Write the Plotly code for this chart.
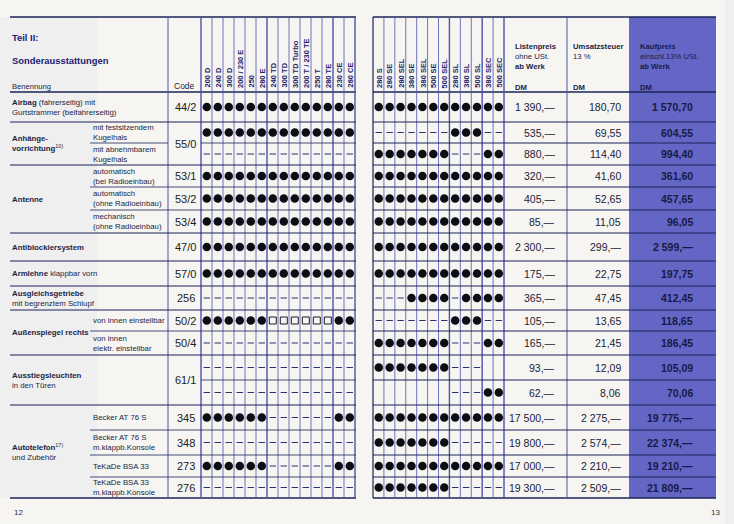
import plotly.graph_objects as go

# ---------------- data ----------------
left_models = ["200 D", "240 D", "300 D", "200 / 230 E", "250", "280 E",
               "240 TD", "300 TD", "300 TD Turbo", "200 T / 230 TE", "250 T", "280 TE",
               "230 CE", "280 CE"]
right_models = ["280 S", "280 SE", "280 SEL", "380 SE", "380 SEL", "500 SE", "500 SEL",
                "280 SL", "380 SL", "500 SL", "380 SEC", "500 SEC"]

group_labels = ["<b>Airbag</b> (fahrerseitig) mit<br>Gurtstrammer (beifahrerseitig)",
                "<b>Anhänge-</b><br><b>vorrichtung</b><sup>10)</sup>",
                "<b>Antenne</b>",
                "<b>Antiblockiersystem</b>",
                "<b>Armlehne</b> klappbar vorn",
                "<b>Ausgleichsgetriebe</b><br>mit begrenztem Schlupf",
                "<b>Außenspiegel rechts</b>",
                "<b>Ausstiegsleuchten</b><br>in den Türen",
                "<b>Autotelefon</b><sup>17)</sup><br>und Zubehör"]
group_sizes = [1, 2, 3, 1, 1, 1, 2, 2, 4]

sub_labels = ["", "mit festsitzendem<br>Kugelhals", "mit abnehmbarem<br>Kugelhals",
              "automatisch<br>(bei Radioeinbau)", "automatisch<br>(ohne Radioeinbau)",
              "mechanisch<br>(ohne Radioeinbau)", "", "", "",
              "von innen einstellbar", "von innen<br>elektr. einstellbar", "", "",
              "Becker AT 76 S", "Becker AT 76 S<br>m.klappb.Konsole",
              "TeKaDe BSA 33", "TeKaDe BSA 33<br>m.klappb.Konsole"]

codes = ["44/2", "55/0", "", "53/1", "53/2", "53/4", "47/0", "57/0", "256",
         "50/2", "50/4", "61/1", "", "345", "348", "273", "276"]

# x = Punkt, s = Quadrat, - = Strich, Leerzeichen = leer
avail_left = ["xxxxxxxxxxxxxx", "xxxxxxxxxxxxxx", "--------------",
              "xxxxxxxxxxxxxx", "xxxxxxxxxxxxxx", "xxxxxxxxxxxxxx",
              "xxxxxxxxxxxxxx", "xxxxxxxxxxxxxx", "--------------",
              "xxxxxxssssssxx", "--------------", "--------------", "--------------",
              "xxxxxx------xx", "--------------", "xxxxxx------xx", "--------------"]
avail_right = ["xxxxxxxxxxxx", "-------xxx--", "xxxxxxx---xx",
               "xxxxxxxxxxxx", "xxxxxxxxxxxx", "xxxxxxxxxxxx",
               "xxxxxxxxxxxx", "xxxxxxxxxxxx", "---xxxx-xxxx",
               "-------xxx--", "xxxxxxx---xx", "xxxxxxx---  ", "       ---xx",
               "xxxxxxxxxxxx", "xxxxxxx-----", "xxxxxxxxxxxx", "xxxxxxx-----"]

listenpreis = ["1 390,—", "535,—", "880,—", "320,—", "405,—", "85,—", "2 300,—", "175,—",
               "365,—", "105,—", "165,—", "93,—", "62,—", "17 500,—", "19 800,—",
               "17 000,—", "19 300,—"]
umsatzsteuer = ["180,70", "69,55", "114,40", "41,60", "52,65", "11,05", "299,—", "22,75",
                "47,45", "13,65", "21,45", "12,09", "8,06", "2 275,—", "2 574,—",
                "2 210,—", "2 509,—"]
kaufpreis = ["1 570,70", "604,55", "994,40", "361,60", "457,65", "96,05", "2 599,—", "197,75",
             "412,45", "118,65", "186,45", "105,09", "70,06", "19 775,—", "22 374,—",
             "19 210,—", "21 809,—"]

# ---------------- geometry / style ----------------
W, H = 734, 524
TOP, HEAD_BOT, BOT = 17, 92, 498
row_edges = [92, 122, 143, 165, 187, 210, 233, 261, 286, 310, 331, 355, 380, 405, 430, 455, 477, 498]
LX0, LSUB, LCODE, LMOD, LX1 = 10, 90, 168, 201, 355
RX0, RMOD1, P1, P2, RX1 = 373, 504, 567, 629, 716
lw = (LX1 - LMOD) / len(left_models)
rw = (RMOD1 - RX0) / len(right_models)

BG = "#f6f5f1"
NAVY = "#1c2358"
COL = "#4d54ad"
BLUE = "#6466c6"
TXT = "#1b1f45"
FONT = "Liberation Sans"
REG = 7.8

fig = go.Figure()
shapes = []


def line(x0, y0, x1, y1, color=NAVY, width=1.0):
    shapes.append(dict(type="line", x0=x0, y0=y0, x1=x1, y1=y1, xref="x", yref="y",
                       line=dict(color=color, width=width), layer="above"))


# background pieces
shapes.append(dict(type="rect", x0=0, x1=97, y0=17, y1=498, xref="x", yref="y",
                   fillcolor="#efeff0", line=dict(width=0), layer="below"))
shapes.append(dict(type="rect", x0=P2, x1=RX1, y0=TOP, y1=BOT, xref="x", yref="y",
                   fillcolor=BLUE, line=dict(width=0), layer="below"))
shapes.append(dict(type="rect", x0=725, x1=734, y0=0, y1=524, xref="x", yref="y",
                   fillcolor="#efefef", line=dict(width=0), layer="below"))

# top rules, header bottom, bottom rules
line(LX0, TOP, LX1 + 1, TOP, NAVY, 1.6)
line(RX0, TOP, RX1, TOP, NAVY, 1.6)
line(LX0, HEAD_BOT, LX1 + 1, HEAD_BOT, NAVY, 1.4)
line(RX0, HEAD_BOT, RX1, HEAD_BOT, NAVY, 1.4)
line(LX0, BOT, LX1 + 1, BOT, NAVY, 1.6)
line(RX0, BOT, RX1, BOT, NAVY, 1.6)

# vertical lines left page
line(LCODE, TOP, LCODE, BOT, COL, 1)
for i in range(len(left_models) + 1):
    x = LMOD + i * lw
    wdt = 1.4 if i in (0, 6, 12, 14) else 0.8
    line(x, TOP, x, BOT, COL, wdt)
# vertical lines right page
line(RX0, TOP, RX0, BOT, NAVY, 1.2)
for i in range(1, len(right_models) + 1):
    x = RX0 + i * rw
    wdt = 1.4 if i in (7, 10, 12) else 0.8
    line(x, TOP, x, BOT, COL, wdt)
line(P1, TOP, P1, BOT, COL, 1)

# group start rows
group_start = []
r = 0
for g in group_sizes:
    group_start.append(r)
    r += g

# horizontal row lines
for i in range(1, len(codes)):
    y = row_edges[i]
    line(RX0, y, RX1, y, NAVY, 1)
    if i in group_start:
        line(LX0, y, LX1 + 1, y, NAVY, 1)
    elif sub_labels[i]:
        if codes[i] == "":
            line(LSUB, y, LCODE, y, NAVY, 0.8)
            line(LMOD, y, LX1 + 1, y, NAVY, 0.8)
        else:
            line(LSUB, y, LX1 + 1, y, NAVY, 0.8)
    else:
        line(LMOD, y, LX1 + 1, y, NAVY, 0.8)

annotations = []


def text(x, y, s, size=REG, xanchor="left", color=TXT, angle=0, yanchor="middle", align="left"):
    annotations.append(dict(x=x, y=y, xref="x", yref="y", text=s, showarrow=False,
                            xanchor=xanchor, yanchor=yanchor, align=align, textangle=angle,
                            borderpad=0, font=dict(family=FONT, size=size, color=color)))


# header text
text(11, 37, "<b>Teil II:</b>", 9.4, color="#1a2070")
text(11, 60, "<b>Sonderausstattungen</b>", 9.4, color="#1a2070")
text(11, 86, "Benennung", 7.6)
text(LCODE + 5, 86, "Code", 8.5)
text(514, 56, "<b>Listenpreis</b><br>ohne USt.<br><b>ab Werk</b>", 7.7)
text(514, 87, "<b>DM</b>", 7.7)
text(572, 51, "<b>Umsatzsteuer</b><br>13 %", 7.7)
text(572, 87, "<b>DM</b>", 7.7)
text(639, 56, "<b>Kaufpreis</b><br>einschl.13% USt.<br><b>ab Werk</b>", 7.7, color="#171c50")
text(639, 87, "<b>DM</b>", 7.7, color="#171c50")

for i, m in enumerate(left_models):
    text(LMOD + (i + 0.5) * lw + 0.5, 89, "<b>" + m + "</b>", 7.5, xanchor="center",
         color="#1e246a", angle=-90, yanchor="bottom")
for i, m in enumerate(right_models):
    text(RX0 + (i + 0.5) * rw + 0.5, 89, "<b>" + m + "</b>", 7.5, xanchor="center",
         color="#1e246a", angle=-90, yanchor="bottom")

# row labels
for g, start in enumerate(group_start):
    end = start + group_sizes[g]
    yc = (row_edges[start] + row_edges[end]) / 2
    text(11, yc, group_labels[g], REG)
for i, s in enumerate(sub_labels):
    if s:
        text(92, (row_edges[i] + row_edges[i + 1]) / 2, s, REG)

# codes
i = 0
while i < len(codes):
    j = i + 1
    while j < len(codes) and codes[j] == "":
        j += 1
    text((LCODE + LMOD) / 2 + 1, (row_edges[i] + row_edges[j]) / 2, codes[i], 11,
         xanchor="center", color="#222")
    i = j

# prices
for i in range(len(codes)):
    yc = (row_edges[i] + row_edges[i + 1]) / 2
    text(556, yc, listenpreis[i], 10.5, xanchor="right", color="#20223a")
    text(622, yc, umsatzsteuer[i], 10.5, xanchor="right", color="#20223a")
    text(694, yc, "<b>" + kaufpreis[i] + "</b>", 10.5, xanchor="right", color="#161a45")

# page numbers
text(13, 512, "12", 8, color="#333")
text(721, 512, "13", 8, xanchor="right", color="#333")

# availability glyphs
dots_x, dots_y, sq_x, sq_y, dash_x, dash_y = [], [], [], [], [], []
for i in range(len(codes)):
    yc = (row_edges[i] + row_edges[i + 1]) / 2
    cells = [(LMOD + (k + 0.5) * lw + 0.3, c) for k, c in enumerate(avail_left[i])] + \
            [(RX0 + (k + 0.5) * rw + 0.3, c) for k, c in enumerate(avail_right[i])]
    for xc, c in cells:
        if c == "x":
            dots_x.append(xc); dots_y.append(yc)
        elif c == "s":
            sq_x.append(xc); sq_y.append(yc)
        elif c == "-":
            dash_x += [xc - 3.2, xc + 3.2, None]
            dash_y += [yc, yc, None]

fig.add_trace(go.Scatter(x=dots_x, y=dots_y, mode="markers", hoverinfo="skip",
                         marker=dict(symbol="circle", size=8.5, color="#0d0d14", line=dict(width=0))))
fig.add_trace(go.Scatter(x=sq_x, y=sq_y, mode="markers", hoverinfo="skip",
                         marker=dict(symbol="square-open", size=7, color="#1a1a2a", line=dict(width=1))))
fig.add_trace(go.Scatter(x=dash_x, y=dash_y, mode="lines", hoverinfo="skip",
                         line=dict(color="#2c3170", width=1), connectgaps=False))

fig.update_layout(
    width=W, height=H, margin=dict(l=0, r=0, t=0, b=0),
    paper_bgcolor=BG, plot_bgcolor=BG, showlegend=False,
    xaxis=dict(range=[0, W], visible=False, fixedrange=True),
    yaxis=dict(range=[H, 0], visible=False, fixedrange=True),
    shapes=shapes, annotations=annotations,
)

fig.write_html(
    "out.html",
    config={"displayModeBar": False},
    post_script="document.body.style.margin='0px';document.body.style.padding='0px';"
                "document.body.style.overflow='hidden';document.body.style.background='" + BG + "';",
)
